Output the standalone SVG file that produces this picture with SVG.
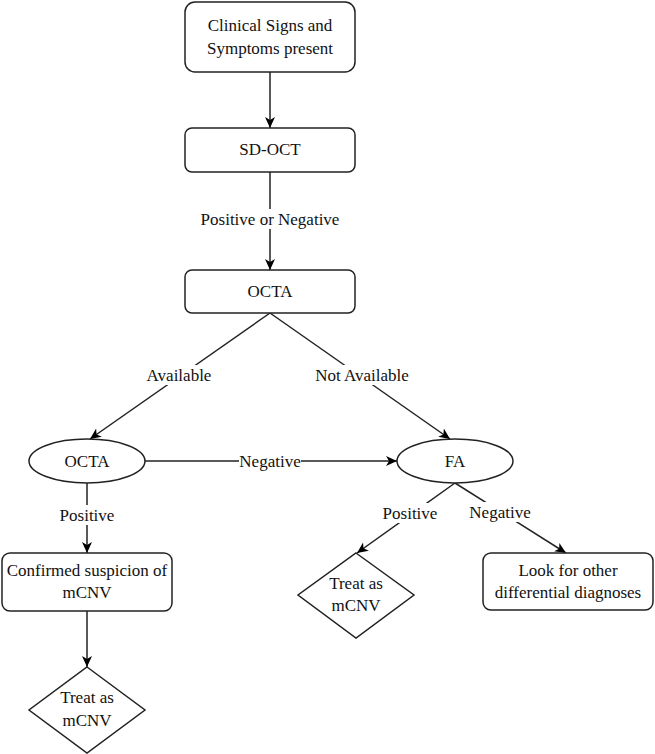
<svg xmlns="http://www.w3.org/2000/svg" width="655" height="754" viewBox="0 0 655 754">
<defs>
<marker id="arr" markerUnits="userSpaceOnUse" markerWidth="12" markerHeight="12" viewBox="0 0 12 12" refX="11" refY="6" orient="auto">
<path d="M0,1 L11,6 L0,11 L3,6 z" fill="#000"/>
</marker>
</defs>
<rect width="655" height="754" fill="#fff"/>
<g font-family="Liberation Serif" font-size="17" text-anchor="middle">
<g id="connectors" stroke-width="1.5">
<g stroke="#222" fill="none">
<line x1="270" y1="72" x2="270" y2="128" marker-end="url(#arr)"/>
<line x1="270" y1="172" x2="270" y2="270" marker-end="url(#arr)"/>
<line x1="270" y1="313" x2="90" y2="439" marker-end="url(#arr)"/>
<line x1="270" y1="313" x2="450" y2="439" marker-end="url(#arr)"/>
<line x1="145" y1="461" x2="397" y2="461" marker-end="url(#arr)"/>
<line x1="87" y1="483" x2="87" y2="553" marker-end="url(#arr)"/>
<line x1="87" y1="611" x2="87" y2="667" marker-end="url(#arr)"/>
<line x1="455" y1="483" x2="357" y2="553" marker-end="url(#arr)"/>
<line x1="455" y1="483" x2="566" y2="553" marker-end="url(#arr)"/>
</g>
<g fill="#fff">
<rect x="199" y="209" width="142" height="20"/>
<rect x="146" y="365" width="66" height="20"/>
<rect x="315" y="365" width="94" height="20"/>
<rect x="239" y="451" width="62" height="20"/>
<rect x="59" y="505" width="56" height="20"/>
<rect x="382" y="503" width="56" height="20"/>
<rect x="470" y="502" width="60" height="20"/>
</g>
<g fill="#111">
<text x="270" y="225">Positive or Negative</text>
<text x="179" y="381">Available</text>
<text x="362" y="381">Not Available</text>
<text x="270" y="467">Negative</text>
<text x="87" y="521">Positive</text>
<text x="410" y="519">Positive</text>
<text x="500" y="518">Negative</text>
</g>
</g>
<g id="n1">
<rect x="185" y="2" width="170" height="70" rx="10" fill="#fff" stroke="#222" stroke-width="1.5"/>
<text x="270" y="31" fill="#111">Clinical Signs and</text>
<text x="270" y="54" fill="#111">Symptoms present</text>
</g>
<g id="n2">
<rect x="185" y="128" width="170" height="44" rx="7" fill="#fff" stroke="#222" stroke-width="1.5"/>
<text x="270" y="155" fill="#111">SD-OCT</text>
</g>
<g id="n3">
<rect x="185" y="270" width="170" height="43" rx="7" fill="#fff" stroke="#222" stroke-width="1.5"/>
<text x="270" y="297" fill="#111">OCTA</text>
</g>
<g id="n4">
<ellipse cx="87" cy="461" rx="58" ry="22" fill="#fff" stroke="#222" stroke-width="1.5"/>
<text x="87" y="467" fill="#111">OCTA</text>
</g>
<g id="n5">
<ellipse cx="455" cy="461" rx="58" ry="22" fill="#fff" stroke="#222" stroke-width="1.5"/>
<text x="455" y="467" fill="#111">FA</text>
</g>
<g id="n6">
<rect x="2" y="553" width="170" height="58" rx="8" fill="#fff" stroke="#222" stroke-width="1.5"/>
<text x="87" y="576" fill="#111">Confirmed suspicion of</text>
<text x="87" y="598" fill="#111">mCNV</text>
</g>
<g id="n7">
<polygon points="87,667 145,710 87,753 29,710" fill="#fff" stroke="#222" stroke-width="1.5"/>
<text x="87" y="703" fill="#111">Treat as</text>
<text x="87" y="726" fill="#111">mCNV</text>
</g>
<g id="n8">
<polygon points="356,553 414,595 356,638 298,595" fill="#fff" stroke="#222" stroke-width="1.5"/>
<text x="356" y="589" fill="#111">Treat as</text>
<text x="356" y="611" fill="#111">mCNV</text>
</g>
<g id="n9">
<rect x="483" y="553" width="170" height="57" rx="8" fill="#fff" stroke="#222" stroke-width="1.5"/>
<text x="568" y="576" fill="#111">Look for other</text>
<text x="568" y="598" fill="#111">differential diagnoses</text>
</g>
</g>
</svg>
